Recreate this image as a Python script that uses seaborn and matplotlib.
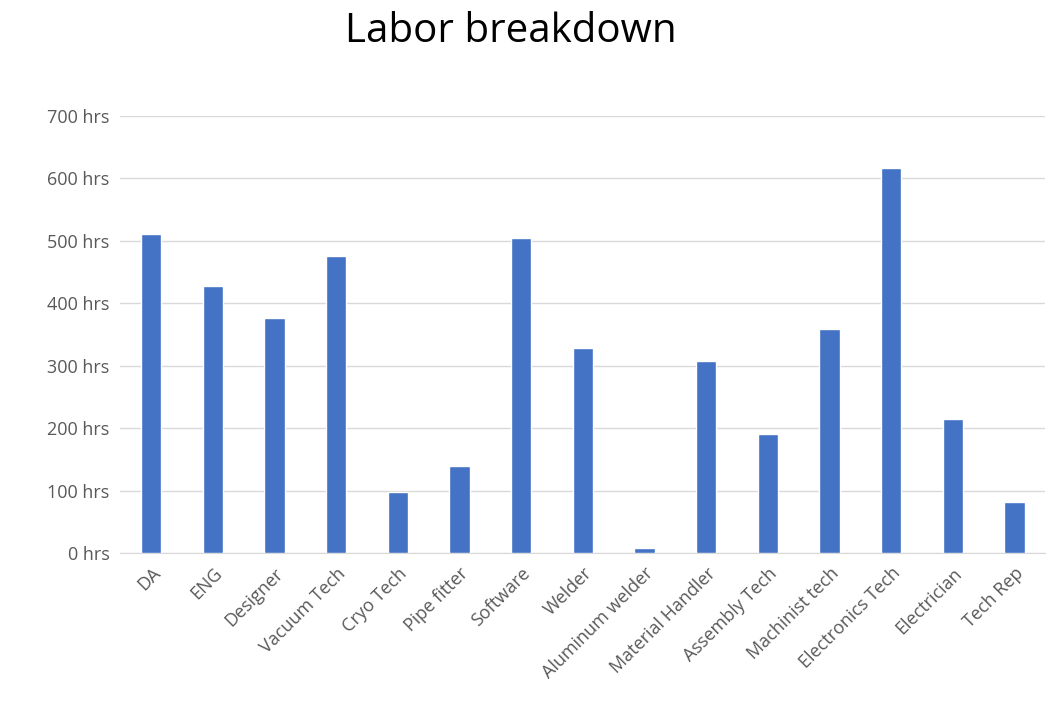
import matplotlib
matplotlib.use("Agg")
import matplotlib.pyplot as plt
import seaborn as sns
import pandas as pd

sns.set_style("white")
plt.rcParams['font.family'] = ['Open Sans', 'DejaVu Sans']

roles = ['DA', 'ENG', 'Designer', 'Vacuum Tech', 'Cryo Tech', 'Pipe fitter',
         'Software', 'Welder', 'Aluminum welder', 'Material Handler',
         'Assembly Tech', 'Machinist tech', 'Electronics Tech', 'Electrician',
         'Tech Rep']
hours = [510, 428, 377, 476, 97, 140, 505, 329, 8, 308, 190, 358, 617, 215, 81]
yticks = [0, 100, 200, 300, 400, 500, 600, 700]

df = pd.DataFrame({'role': roles, 'hours': hours})

fig = plt.figure(figsize=(10.56, 7.10), dpi=100)
ax = fig.add_axes([0.114, 0.221, 0.876, 0.616])

sns.barplot(data=df, x='role', y='hours', color='#4472C4', width=0.33,
            saturation=1, ax=ax, zorder=3)

ax.set_ylim(0, 700)
ax.set_yticks(yticks)
ax.set_yticklabels([f"{v} hrs" for v in yticks], fontsize=13, color='#595959')
ax.grid(axis='y', color='#D9D9D9', linewidth=1, zorder=0)
ax.set_xlabel('')
ax.set_ylabel('')
for s in ['top', 'right', 'left']:
    ax.spines[s].set_visible(False)
ax.spines['bottom'].set_color('#D9D9D9')
ax.tick_params(axis='both', length=0, pad=8)
ax.set_xticks(range(len(roles)))
ax.set_xticklabels(roles, rotation=45, ha='right', rotation_mode='anchor',
                   fontsize=13, color='#595959')

fig.text(0.484, 0.955, 'Labor breakdown', ha='center', va='center',
         fontsize=29, color='black')

plt.savefig('out.png', dpi=100)
